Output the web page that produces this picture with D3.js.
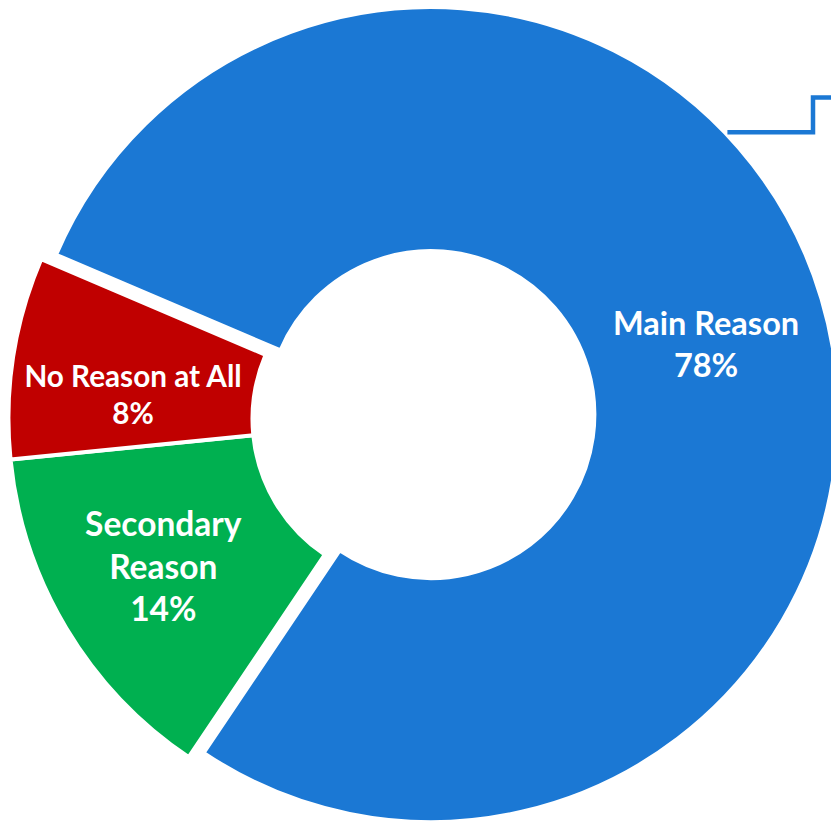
<!DOCTYPE html>
<html>
<head>
<meta charset="utf-8">
<script src="https://cdn.jsdelivr.net/npm/d3@7"></script>
<style>
  html, body { margin: 0; padding: 0; background: #ffffff; }
  svg { display: block; }
</style>
</head>
<body>
<svg id="chart" width="831" height="821"></svg>
<script>
// Share of respondents by reason
const categories = ["Main Reason", "Secondary Reason", "No Reason at All"];
const shares = [78, 14, 8];
const labelLines = [["Main Reason"], ["Secondary", "Reason"], ["No Reason at All"]];
const sliceColors = ["#1B78D4", "#00B050", "#C00000"];

// Layout / styling
const width = 831, height = 821;
const cx = 416, cy = 419;
const innerR = 163.5, outerR = 407.5;
const startDeg = -66.9;
const explode = [15.5, 0, 0];          // outward offset of each slice, px
const labelRadii = [284, 293, 284];
const labelNudgeDeg = [2.2, 0.5, -3.8];
const fontSizes = [32.5, 33.5, 29.7];
const lineGaps = [42, 42.5, 37];

const rad = d => d * Math.PI / 180;
const svg = d3.select("#chart");

const data = categories.map((c, i) => ({ name: c, value: shares[i], lines: labelLines[i].concat([shares[i] + "%"]), i }));

const pie = d3.pie()
  .sort(null)
  .value(d => d.value)
  .startAngle(rad(startDeg))
  .endAngle(rad(startDeg) + 2 * Math.PI);

const arc = d3.arc().innerRadius(innerR).outerRadius(outerR);
const arcs = pie(data);

const offsetOf = a => {
  const mid = (a.startAngle + a.endAngle) / 2;
  const d = explode[a.data.i];
  return [d * Math.sin(mid), -d * Math.cos(mid)];
};

const g = svg.append("g").attr("transform", `translate(${cx},${cy})`);

const slice = g.selectAll("g.slice")
  .data(arcs)
  .join("g")
  .attr("class", "slice")
  .attr("transform", a => { const o = offsetOf(a); return `translate(${o[0]},${o[1]})`; });

slice.append("path")
  .attr("d", arc)
  .attr("fill", a => sliceColors[a.data.i])
  .attr("stroke", "#ffffff")
  .attr("stroke-width", 4)
  .attr("stroke-linejoin", "miter");

// Leader line from the main slice towards its callout
const main = arcs[0];
const mo = offsetOf(main);
const leaderAngle = rad(46.4);
const lx0 = mo[0] + (outerR + 2) * Math.sin(leaderAngle);
const ly0 = mo[1] - (outerR + 2) * Math.cos(leaderAngle);
const elbowX = 813 - cx, topY = 97.5 - cy;
g.append("path")
  .attr("d", d3.line()([[lx0, ly0], [elbowX, ly0], [elbowX, topY], [width - cx + 10, topY]]))
  .attr("fill", "none")
  .attr("stroke", sliceColors[0])
  .attr("stroke-width", 4.5)
  .attr("stroke-linejoin", "miter");

// Labels
slice.each(function (a) {
  const i = a.data.i;
  const mid = (a.startAngle + a.endAngle) / 2 + rad(labelNudgeDeg[i]);
  const x = labelRadii[i] * Math.sin(mid);
  const y = -labelRadii[i] * Math.cos(mid);
  const fs = fontSizes[i], gap = lineGaps[i];
  const cap = 0.69 * fs;
  const lines = a.data.lines;
  const blockH = cap + (lines.length - 1) * gap;
  const firstBase = y - blockH / 2 + cap;
  const t = d3.select(this).append("text")
    .attr("text-anchor", "middle")
    .attr("fill", "#ffffff")
    .attr("font-family", "Lato, 'Open Sans', sans-serif")
    .attr("font-weight", 700)
    .attr("font-size", fs);
  lines.forEach((ln, k) => {
    t.append("tspan").attr("x", x).attr("y", firstBase + k * gap).text(ln);
  });
});
</script>
</body>
</html>
